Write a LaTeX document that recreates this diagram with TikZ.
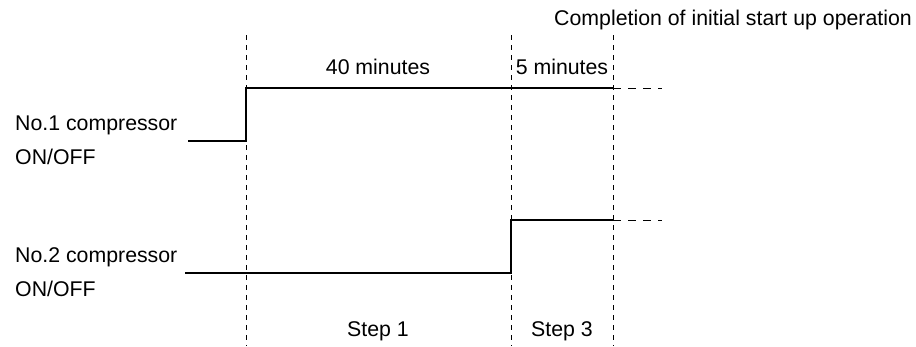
\documentclass[tikz,border=0pt]{standalone}
\usepackage{fontspec}
\setmainfont{Liberation Sans}
\begin{document}
\begin{tikzpicture}[
        x=1pt, y=-1pt,
        lbl/.style={anchor=base, inner sep=0pt, font=\fontsize{21.3}{25}\selectfont},
        lblL/.style={lbl, anchor=base west},
        sig/.style={line width=1.3pt},
        guide/.style={line width=0.9pt, dash pattern=on 5pt off 5pt},
        tail/.style={line width=0.9pt, dash pattern=on 8pt off 7pt}
    ]
        \useasboundingbox (0,0) rectangle (916,346);

        % time marks
        \coordinate (g1t) at (246,35);  \coordinate (g1b) at (246,346);
        \coordinate (g2t) at (511,35);  \coordinate (g2b) at (511,346);
        \coordinate (g3t) at (613,35);  \coordinate (g3b) at (613,346);
        \draw[guide] (g1t) -- (g1b);
        \draw[guide] (g2t) -- (g2b);
        \draw[guide] (g3t) -- (g3b);

        % labels
        \node[lbl, anchor=base east] (done) at (912,25) {Completion of initial start up operation};
        \node[lbl] (min40) at (378,74) {40 minutes};
        \node[lbl] (min5) at (562,74) {5 minutes};
        \node[lbl] (step1) at (378,336) {Step 1};
        \node[lbl] (step3) at (562,336) {Step 3};
        \node[lblL] (c1a) at (15,130) {No.1 compressor};
        \node[lblL] (c1b) at (15,164) {ON/OFF};
        \node[lblL] (c2a) at (15,262) {No.2 compressor};
        \node[lblL] (c2b) at (15,296) {ON/OFF};

        % No.1 compressor
        \coordinate (a0) at (188,141);
        \coordinate (a1) at (246,141);
        \coordinate (a2) at (246,88);
        \coordinate (a3) at (613,88);
        \coordinate (a4) at (662,88);
        \draw[sig] (a0) -- (a1) -- (a2) -- (a3);
        \draw[tail] (a3) -- (a4);

        % No.2 compressor
        \coordinate (b0) at (185,273);
        \coordinate (b1) at (511,273);
        \coordinate (b2) at (511,220);
        \coordinate (b3) at (613,220);
        \coordinate (b4) at (662,220);
        \draw[sig] (b0) -- (b1) -- (b2) -- (b3);
        \draw[tail] (b3) -- (b4);
    \end{tikzpicture}
\end{document}
